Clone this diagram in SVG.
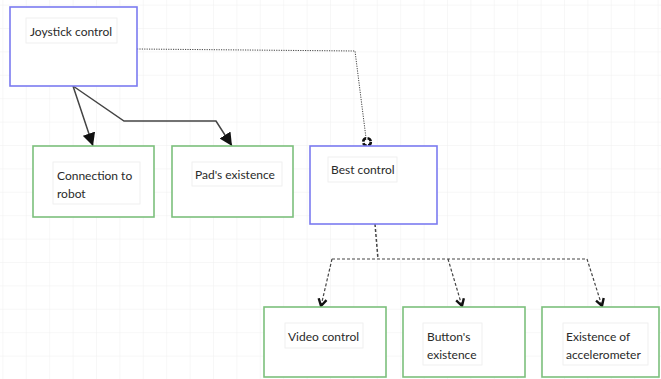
<svg xmlns="http://www.w3.org/2000/svg" width="661" height="379" viewBox="0 0 661 379">
<style>
.bl{fill:#fff;stroke:#7b7bf0;stroke-width:1.6}
.gr{fill:#fff;stroke:#7cc07c;stroke-width:1.6}
.lb{fill:#fff;stroke:#ececec;stroke-width:0.8}
text{font-family:Lato,"Liberation Sans",sans-serif;font-size:12px;fill:#2a2a2a}
.c{fill:none;stroke:#444}
</style>
<defs>
<pattern id="grid" x="2.4" y="4.6" width="23.4" height="23.4" patternUnits="userSpaceOnUse">
<path d="M0 0H23.4M0 0V23.4" fill="none" stroke="#f0f0f0" stroke-width="1"/>
</pattern>
<marker id="tri" markerWidth="13" markerHeight="13" refX="10" refY="5" orient="auto" markerUnits="userSpaceOnUse" viewBox="0 0 10 10">
<path d="M0 0L10 5L0 10Z" fill="#111"/>
</marker>
<marker id="vee" markerWidth="12" markerHeight="12" refX="9" refY="5" orient="auto" markerUnits="userSpaceOnUse" viewBox="0 0 12 10">
<path d="M2 1L9 5L2 9" fill="none" stroke="#111" stroke-width="2.4"/>
</marker>
</defs>
<rect width="661" height="379" fill="#fff"/>
<rect width="661" height="379" fill="url(#grid)"/>
<g id="connectors">
<path class="c" d="M73 86L93 146" stroke-width="1.5" marker-end="url(#tri)"/>
<path class="c" d="M73 86L124 121H216L232 146" stroke-width="1.5" marker-end="url(#tri)"/>
<path class="c" d="M137 49L355 51L366 138" stroke-width="1" stroke-dasharray="1.2 1.2"/>
<circle cx="367" cy="142" r="3.8" fill="none" stroke="#111" stroke-width="2.6" stroke-dasharray="4.5 1.5"/>
<path class="c" d="M375 224L378 259" stroke-width="1.5" stroke-dasharray="3 2"/>
<path class="c" d="M332 259H587" stroke-width="1.2" stroke-dasharray="3 2"/>
<path class="c" d="M332 259L321 306" stroke-width="1.2" stroke-dasharray="3 2" marker-end="url(#vee)"/>
<path class="c" d="M448 259L462 306" stroke-width="1.2" stroke-dasharray="3 2" marker-end="url(#vee)"/>
<path class="c" d="M587 259L602 306" stroke-width="1.2" stroke-dasharray="3 2" marker-end="url(#vee)"/>
</g>
<g id="joystick">
<rect class="bl" x="10" y="7" width="127" height="79"/>
<rect class="lb" x="26" y="18" width="91" height="25"/>
<text x="30" y="36">Joystick control</text>
</g>
<g id="connection">
<rect class="gr" x="33" y="146" width="121" height="71"/>
<rect class="lb" x="53" y="162" width="87" height="42"/>
<text x="57" y="180">Connection to</text>
<text x="57" y="198">robot</text>
</g>
<g id="pad">
<rect class="gr" x="172" y="146" width="121" height="71"/>
<rect class="lb" x="192" y="162" width="90" height="24"/>
<text x="195" y="179">Pad's existence</text>
</g>
<g id="best">
<rect class="bl" x="310" y="146" width="127" height="78"/>
<rect class="lb" x="328" y="157" width="69" height="25"/>
<text x="331" y="174">Best control</text>
</g>
<g id="video">
<rect class="gr" x="264" y="307" width="122" height="70"/>
<rect class="lb" x="285" y="323" width="78" height="25"/>
<text x="288" y="341">Video control</text>
</g>
<g id="button">
<rect class="gr" x="403" y="307" width="122" height="70"/>
<rect class="lb" x="423" y="323" width="59" height="42"/>
<text x="427" y="341">Button's</text>
<text x="427" y="359">existence</text>
</g>
<g id="accel">
<rect class="gr" x="542" y="307" width="117" height="70"/>
<rect class="lb" x="563" y="323" width="85" height="42"/>
<text x="566" y="341">Existence of</text>
<text x="566" y="359">accelerometer</text>
</g>
</svg>
